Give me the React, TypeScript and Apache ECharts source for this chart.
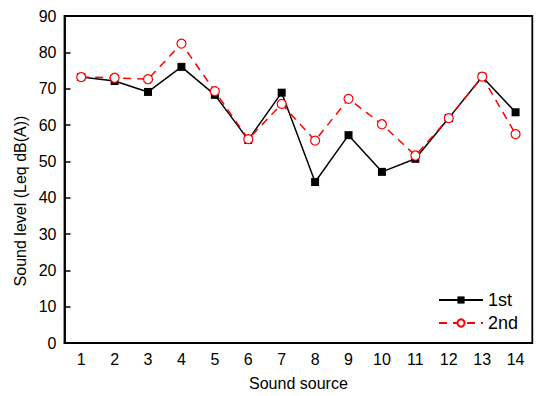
import React, { useEffect, useRef } from "react";
import * as echarts from "echarts";

const categories = ["1", "2", "3", "4", "5", "6", "7", "8", "9", "10", "11", "12", "13", "14"];
const first = [73.2, 72.1, 69.1, 76.0, 68.3, 55.9, 68.9, 44.3, 57.2, 47.1, 50.7, 61.9, 73.3, 63.5];
const second = [73.2, 73.0, 72.6, 82.4, 69.3, 56.1, 65.8, 55.7, 67.2, 60.2, 51.6, 61.9, 73.3, 57.5];
const yTicks = { min: 0, max: 90, interval: 10 };

const FONT = "Liberation Sans, Arial, sans-serif";

export default function App() {
  const ref = useRef<HTMLDivElement>(null);
  useEffect(() => {
    const chart = echarts.init(ref.current!, null, { renderer: "svg" });
    chart.setOption({
      animation: false,
      backgroundColor: "#fff",
      grid: {
        left: 64.5,
        right: 3.7,
        top: 16,
        bottom: 50.3,
        show: true,
        borderColor: "#000",
        borderWidth: 1.8,
        backgroundColor: "transparent",
      },
      legend: {
        orient: "vertical",
        left: 433,
        top: 286,
        itemWidth: 44,
        itemHeight: 9,
        itemGap: 5,
        textStyle: { fontFamily: FONT, fontSize: 18, color: "#000", lineHeight: 18 },
        data: ["1st", "2nd"],
      },
      xAxis: {
        type: "category",
        data: categories,
        name: "Sound source",
        nameLocation: "middle",
        nameGap: 32,
        nameTextStyle: { fontFamily: FONT, fontSize: 16, color: "#000" },
        axisLine: { lineStyle: { color: "#000", width: 1.8 } },
        axisTick: { inside: true, alignWithLabel: true, length: 6, lineStyle: { color: "#000", width: 1.5 } },
        axisLabel: { fontFamily: FONT, fontSize: 16, color: "#000", margin: 8 },
        splitLine: { show: false },
      },
      yAxis: {
        type: "value",
        min: yTicks.min,
        max: yTicks.max,
        interval: yTicks.interval,
        axisLine: { show: true, lineStyle: { color: "#000", width: 1.8 } },
        axisTick: { show: true, inside: true, length: 6, lineStyle: { color: "#000", width: 1.5 } },
        axisLabel: { fontFamily: FONT, fontSize: 16, color: "#000", margin: 8 },
        splitLine: { show: false },
      },
      graphic: [
        {
          type: "text",
          x: 20,
          y: 201,
          rotation: Math.PI / 2,
          style: {
            text: "Sound level (Leq dB(A))",
            fontFamily: FONT,
            fontSize: 16,
            fill: "#000",
            align: "center",
            verticalAlign: "middle",
          },
        },
      ],
      series: [
        {
          name: "1st",
          type: "line",
          data: first,
          symbol: "rect",
          symbolSize: 8,
          itemStyle: { color: "#000" },
          lineStyle: { color: "#000", width: 1.5 },
          z: 2,
        },
        {
          name: "2nd",
          type: "line",
          data: second,
          symbol: "circle",
          symbolSize: 9,
          itemStyle: { color: "#fff", borderColor: "#ff0000", borderWidth: 1.2 },
          lineStyle: { color: "#ff0000", width: 1.5, type: [8, 6] },
          z: 3,
        },
      ],
    });
    return () => chart.dispose();
  }, []);
  return <div ref={ref} style={{ width: 536, height: 396, position: "absolute", left: 0, top: 0 }} />;
}
